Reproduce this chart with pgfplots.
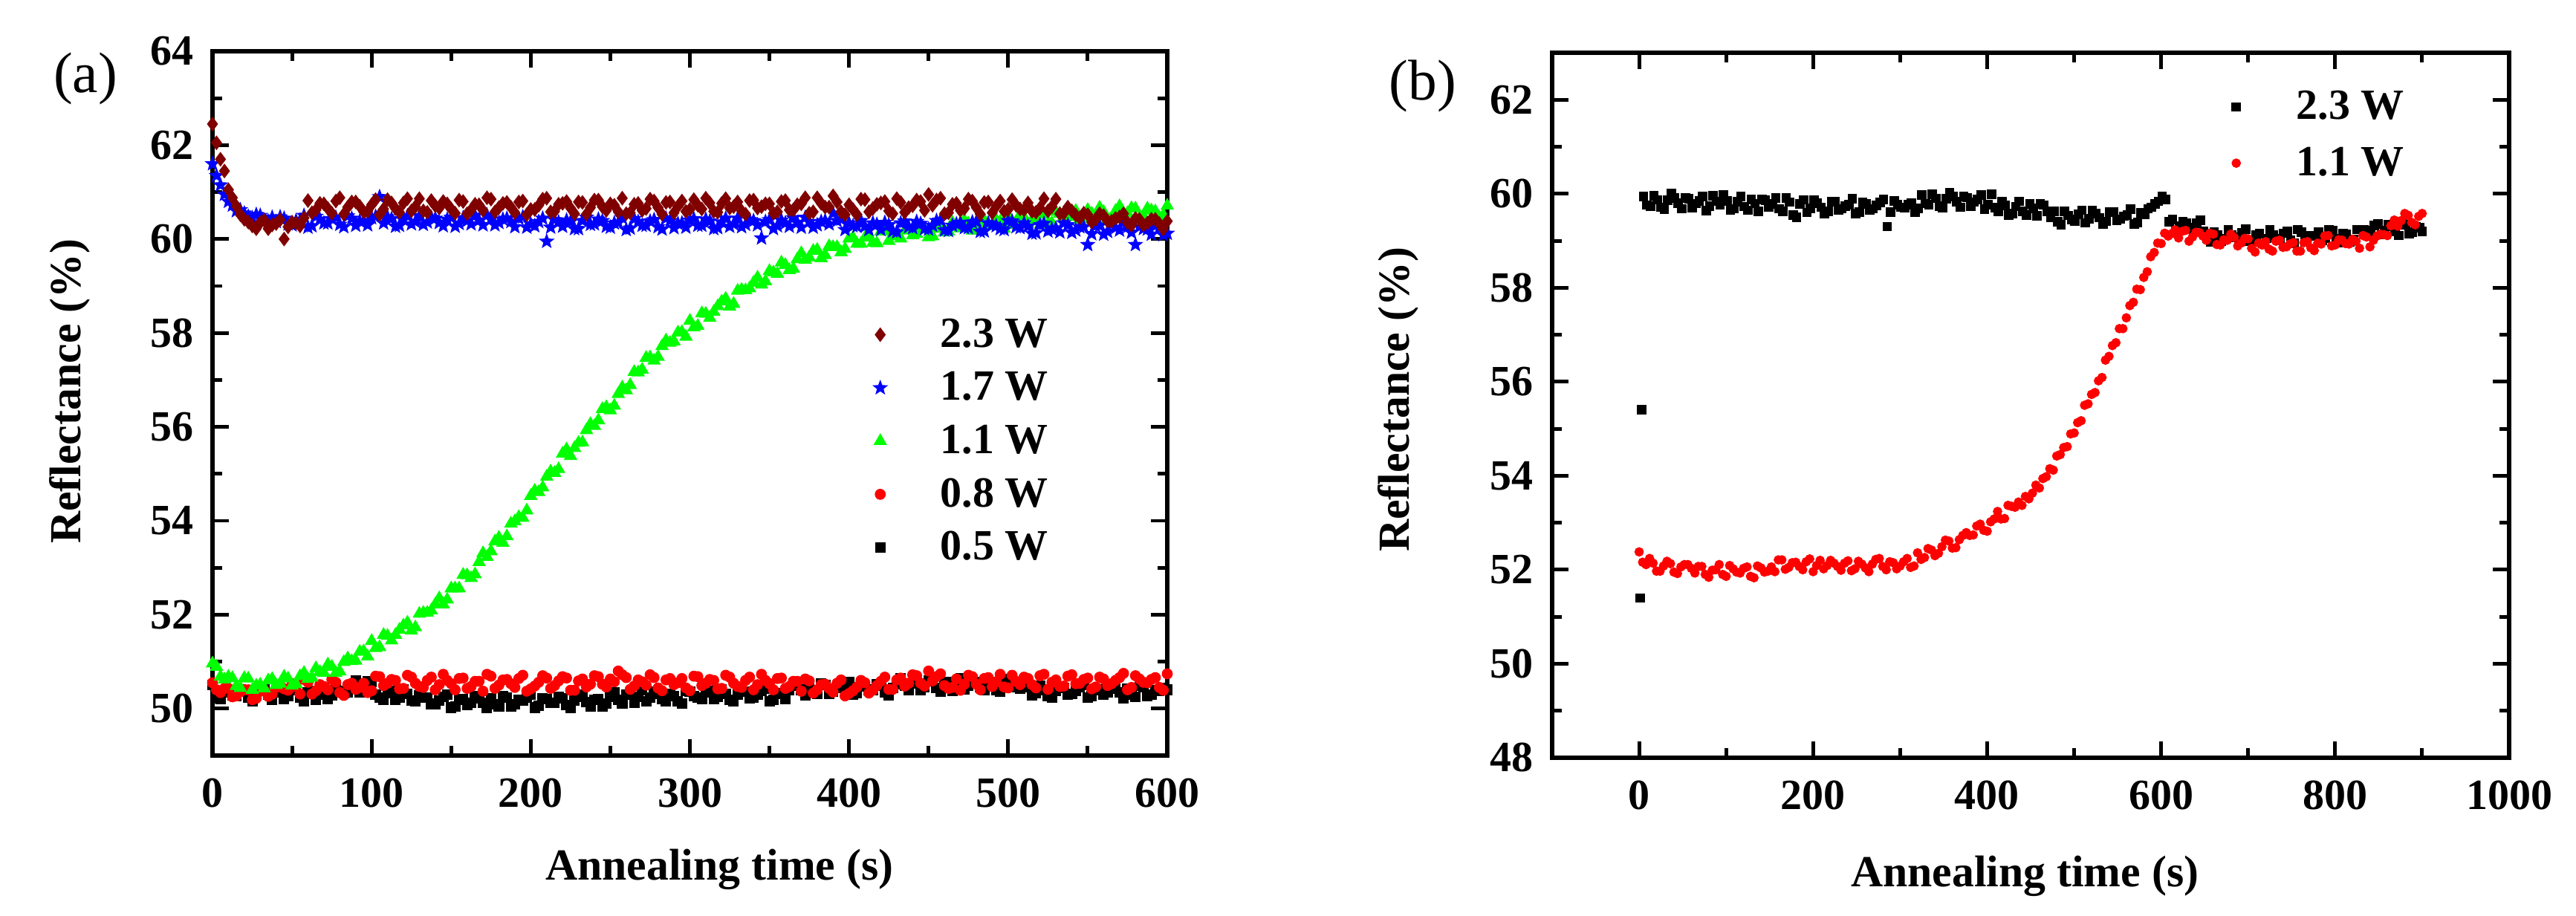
\documentclass[border=0pt]{standalone}
\usepackage{fontspec}
\setmainfont{Liberation Serif}
\usepackage{pgfplots}
\pgfplotsset{compat=1.18}
\definecolor{dred}{RGB}{128,0,0}
\definecolor{fgreen}{RGB}{0,255,0}
\pgfdeclareplotmark{fstar}{%
 \pgfpathmoveto{\pgfpointpolar{90}{\pgfplotmarksize}}%
 \pgfpathlineto{\pgfpointpolar{126}{0.42\pgfplotmarksize}}%
 \pgfpathlineto{\pgfpointpolar{162}{\pgfplotmarksize}}%
 \pgfpathlineto{\pgfpointpolar{198}{0.42\pgfplotmarksize}}%
 \pgfpathlineto{\pgfpointpolar{234}{\pgfplotmarksize}}%
 \pgfpathlineto{\pgfpointpolar{270}{0.42\pgfplotmarksize}}%
 \pgfpathlineto{\pgfpointpolar{306}{\pgfplotmarksize}}%
 \pgfpathlineto{\pgfpointpolar{342}{0.42\pgfplotmarksize}}%
 \pgfpathlineto{\pgfpointpolar{18}{\pgfplotmarksize}}%
 \pgfpathlineto{\pgfpointpolar{54}{0.42\pgfplotmarksize}}%
 \pgfpathclose\pgfusepathqfillstroke}
\pgfplotsset{
 myax/.style={
  scale only axis, anchor=south west,
  axis line style={line width=1.6pt},
  tick style={line width=1.4pt, black},
  tick align=inside, xtick pos=both, ytick pos=both,
  xticklabel pos=bottom, yticklabel pos=left,
  major tick length=0.22cm, minor tick length=0.13cm,
  minor x tick num=1, minor y tick num=1,
  /pgf/number format/assume math mode=true,
  /pgf/number format/1000 sep={},
  tick label style={font=\fontsize{16.5}{19}\selectfont\bfseries},
  yticklabel style={inner sep=0pt, xshift=-0.25cm},
  xticklabel style={inner sep=0pt, yshift=-0.3cm},
  label style={font=\fontsize{17}{20}\selectfont\bfseries},
  legend cell align=left,
  legend image code/.code={\path[draw=none,fill=none] (0cm,-0.1cm) rectangle (1.11cm,0.1cm); \draw[##1] plot coordinates {(0.3cm,0cm)};},
 }
}
\begin{document}
\begin{tikzpicture}
\useasboundingbox (0,0) rectangle (34.67,12.33);
\begin{axis}[myax,
 at={(2.86cm,2.16cm)}, width=12.85cm, height=9.48cm,
 xmin=0, xmax=600, ymin=49, ymax=64,
 xtick={0,100,...,600}, ytick={50,52,...,64},
 xlabel={Annealing time (s)}, ylabel={Reflectance (\%)},
 xlabel style={at={(axis description cs:0.531,-0.1614)}, anchor=center},
 ylabel style={at={(axis description cs:-0.1494,0.517)}, anchor=center},
 reverse legend,
 legend style={at={(0.6755,0.6213)}, anchor=north west, draw=none, fill=none, inner sep=0pt, row sep=0.28cm,
   nodes={inner sep=0pt, text depth=0.15em, font=\fontsize{16.5}{19}\selectfont\bfseries}},
]
% 0.5 W
\addplot[only marks, mark=square*, mark size=1.8pt, black] coordinates {
(0,50.50)(5,50.21)(10,50.35)(15,50.27)(20,50.37)(25,50.16)(30,50.40)(35,50.29)(40,50.34)(45,50.20)(50,50.40)(55,50.24)(60,50.34)(65,50.18)(70,50.44)(75,50.28)(80,50.37)(85,50.35)(90,50.60)(95,50.42)(100,50.56)(105,50.23)(110,50.33)(115,50.19)(120,50.40)(125,50.17)(130,50.28)(135,50.23)(140,50.10)(145,50.25)(150,50.02)(155,50.18)(160,50.08)(165,50.27)(170,50.13)(175,50.21)(180,50.04)(185,50.24)(190,50.09)(195,50.17)(200,50.29)(205,50.06)(210,50.20)(215,50.12)(220,50.22)(225,50.01)(230,50.25)(235,50.14)(240,50.19)(245,50.05)(250,50.25)(255,50.19)(260,50.29)(265,50.13)(270,50.39)(275,50.23)(280,50.32)(285,50.15)(290,50.27)(295,50.11)(300,50.36)(305,50.24)(310,50.34)(315,50.20)(320,50.41)(325,50.18)(330,50.29)(335,50.36)(340,50.23)(345,50.38)(350,50.15)(355,50.31)(360,50.21)(365,50.54)(370,50.40)(375,50.48)(380,50.31)(385,50.51)(390,50.36)(395,50.44)(400,50.56)(405,50.33)(410,50.47)(415,50.39)(420,50.49)(425,50.28)(430,50.52)(435,50.49)(440,50.54)(445,50.40)(450,50.60)(455,50.44)(460,50.54)(465,50.38)(470,50.64)(475,50.48)(480,50.57)(485,50.40)(490,50.52)(495,50.36)(500,50.61)(505,50.46)(510,50.56)(515,50.28)(520,50.49)(525,50.26)(530,50.37)(535,50.44)(540,50.31)(545,50.46)(550,50.23)(555,50.39)(560,50.29)(565,50.48)(570,50.34)(575,50.42)(580,50.25)(585,50.45)(590,50.30)(595,50.38)(600,50.40)
};
\addlegendentry{0.5 W}
\addplot[only marks, mark=square*, mark size=1.8pt, black, forget plot] coordinates {
(2.5,50.22)(7.5,50.36)(12.5,50.28)(17.5,50.40)(22.5,50.23)(27.5,50.32)(32.5,50.44)(37.5,50.19)(42.5,50.35)(47.5,50.26)(52.5,50.39)(57.5,50.16)(62.5,50.37)(67.5,50.30)(72.5,50.21)(77.5,50.41)(82.5,50.33)(87.5,50.51)(92.5,50.35)(97.5,50.58)(102.5,50.29)(107.5,50.19)(112.5,50.37)(117.5,50.24)(122.5,50.31)(127.5,50.15)(132.5,50.23)(137.5,50.09)(142.5,50.17)(147.5,50.29)(152.5,50.05)(157.5,50.20)(162.5,50.13)(167.5,50.22)(172.5,50.01)(177.5,50.09)(182.5,50.27)(187.5,50.05)(192.5,50.18)(197.5,50.23)(202.5,50.02)(207.5,50.21)(212.5,50.13)(217.5,50.25)(222.5,50.08)(227.5,50.17)(232.5,50.29)(237.5,50.04)(242.5,50.20)(247.5,50.11)(252.5,50.34)(257.5,50.11)(262.5,50.32)(267.5,50.25)(272.5,50.16)(277.5,50.36)(282.5,50.20)(287.5,50.31)(292.5,50.15)(297.5,50.38)(302.5,50.27)(307.5,50.20)(312.5,50.38)(317.5,50.25)(322.5,50.32)(327.5,50.16)(332.5,50.36)(337.5,50.22)(342.5,50.30)(347.5,50.42)(352.5,50.18)(357.5,50.33)(362.5,50.40)(367.5,50.49)(372.5,50.28)(377.5,50.36)(382.5,50.54)(387.5,50.32)(392.5,50.45)(397.5,50.50)(402.5,50.29)(407.5,50.48)(412.5,50.40)(417.5,50.52)(422.5,50.35)(427.5,50.44)(432.5,50.64)(437.5,50.39)(442.5,50.55)(447.5,50.46)(452.5,50.59)(457.5,50.36)(462.5,50.57)(467.5,50.50)(472.5,50.41)(477.5,50.61)(482.5,50.45)(487.5,50.56)(492.5,50.40)(497.5,50.63)(502.5,50.49)(507.5,50.42)(512.5,50.46)(517.5,50.33)(522.5,50.40)(527.5,50.24)(532.5,50.44)(537.5,50.30)(542.5,50.38)(547.5,50.50)(552.5,50.26)(557.5,50.41)(562.5,50.34)(567.5,50.43)(572.5,50.22)(577.5,50.30)(582.5,50.48)(587.5,50.26)(592.5,50.39)(597.5,50.44)
};
% 0.8 W
\addplot[only marks, mark=*, mark size=1.9pt, red] coordinates {
(0,50.55)(5,50.34)(10,50.43)(15,50.27)(20,50.40)(25,50.19)(30,50.37)(35,50.26)(40,50.45)(45,50.42)(50,50.53)(55,50.31)(60,50.56)(65,50.38)(70,50.47)(75,50.62)(80,50.34)(85,50.51)(90,50.41)(95,50.54)(100,50.38)(105,50.68)(110,50.54)(115,50.60)(120,50.43)(125,50.67)(130,50.47)(135,50.60)(140,50.40)(145,50.73)(150,50.53)(155,50.64)(160,50.43)(165,50.58)(170,50.37)(175,50.69)(180,50.50)(185,50.62)(190,50.45)(195,50.71)(200,50.42)(205,50.56)(210,50.65)(215,50.49)(220,50.68)(225,50.39)(230,50.59)(235,50.46)(240,50.70)(245,50.52)(250,50.63)(255,50.80)(260,50.66)(265,50.48)(270,50.57)(275,50.72)(280,50.44)(285,50.61)(290,50.51)(295,50.64)(300,50.38)(305,50.68)(310,50.54)(315,50.60)(320,50.43)(325,50.67)(330,50.47)(335,50.60)(340,50.40)(345,50.73)(350,50.53)(355,50.64)(360,50.43)(365,50.58)(370,50.37)(375,50.59)(380,50.40)(385,50.52)(390,50.35)(395,50.61)(400,50.32)(405,50.46)(410,50.55)(415,50.39)(420,50.58)(425,50.41)(430,50.61)(435,50.48)(440,50.72)(445,50.54)(450,50.80)(455,50.68)(460,50.49)(465,50.45)(470,50.39)(475,50.71)(480,50.52)(485,50.64)(490,50.47)(495,50.73)(500,50.44)(505,50.58)(510,50.67)(515,50.51)(520,50.70)(525,50.41)(530,50.61)(535,50.48)(540,50.72)(545,50.54)(550,50.65)(555,50.46)(560,50.63)(565,50.53)(570,50.66)(575,50.40)(580,50.70)(585,50.56)(590,50.62)(595,50.45)(600,50.74)
};
\addlegendentry{0.8 W}
\addplot[only marks, mark=*, mark size=1.9pt, red, forget plot] coordinates {
(2.5,50.40)(7.5,50.43)(12.5,50.25)(17.5,50.36)(22.5,50.40)(27.5,50.22)(32.5,50.39)(37.5,50.31)(42.5,50.49)(47.5,50.39)(52.5,50.47)(57.5,50.62)(62.5,50.31)(67.5,50.51)(72.5,50.40)(77.5,50.56)(82.5,50.28)(87.5,50.54)(92.5,50.45)(97.5,50.34)(102.5,50.69)(107.5,50.49)(112.5,50.62)(117.5,50.42)(122.5,50.71)(127.5,50.54)(132.5,50.45)(137.5,50.67)(142.5,50.51)(147.5,50.60)(152.5,50.40)(157.5,50.65)(162.5,50.47)(167.5,50.58)(172.5,50.73)(177.5,50.43)(182.5,50.61)(187.5,50.53)(192.5,50.64)(197.5,50.37)(202.5,50.48)(207.5,50.70)(212.5,50.43)(217.5,50.59)(222.5,50.65)(227.5,50.39)(232.5,50.63)(237.5,50.52)(242.5,50.68)(247.5,50.46)(252.5,50.57)(257.5,50.72)(262.5,50.41)(267.5,50.61)(272.5,50.50)(277.5,50.66)(282.5,50.38)(287.5,50.64)(292.5,50.55)(297.5,50.44)(302.5,50.69)(307.5,50.49)(312.5,50.62)(317.5,50.42)(322.5,50.71)(327.5,50.54)(332.5,50.45)(337.5,50.67)(342.5,50.51)(347.5,50.60)(352.5,50.40)(357.5,50.65)(362.5,50.47)(367.5,50.58)(372.5,50.63)(377.5,50.33)(382.5,50.51)(387.5,50.43)(392.5,50.54)(397.5,50.27)(402.5,50.38)(407.5,50.60)(412.5,50.33)(417.5,50.49)(422.5,50.67)(427.5,50.41)(432.5,50.65)(437.5,50.54)(442.5,50.70)(447.5,50.48)(452.5,50.59)(457.5,50.74)(462.5,50.43)(467.5,50.63)(472.5,50.52)(477.5,50.68)(482.5,50.40)(487.5,50.66)(492.5,50.57)(497.5,50.46)(502.5,50.71)(507.5,50.51)(512.5,50.64)(517.5,50.44)(522.5,50.73)(527.5,50.56)(532.5,50.47)(537.5,50.69)(542.5,50.53)(547.5,50.62)(552.5,50.42)(557.5,50.67)(562.5,50.49)(567.5,50.60)(572.5,50.75)(577.5,50.45)(582.5,50.63)(587.5,50.55)(592.5,50.66)(597.5,50.39)
};
% 1.1 W
\addplot[only marks, mark=triangle*, mark size=2.6pt, fgreen] coordinates {
(0,50.96)(5,50.68)(10,50.68)(15,50.48)(20,50.65)(25,50.40)(30,50.51)(35,50.60)(40,50.50)(45,50.68)(50,50.49)(55,50.69)(60,50.63)(65,50.86)(70,50.76)(75,50.89)(80,50.79)(85,51.07)(90,51.02)(95,51.22)(100,51.44)(105,51.31)(110,51.55)(115,51.57)(120,51.77)(125,51.66)(130,52.02)(135,52.04)(140,52.22)(145,52.22)(150,52.56)(155,52.56)(160,52.84)(165,52.86)(170,53.31)(175,53.35)(180,53.64)(185,53.67)(190,53.99)(195,54.06)(200,54.53)(205,54.61)(210,54.94)(215,55.02)(220,55.43)(225,55.38)(230,55.66)(235,55.93)(240,56.02)(245,56.38)(250,56.35)(255,56.70)(260,56.78)(265,57.17)(270,57.22)(275,57.48)(280,57.49)(285,57.84)(290,57.82)(295,58.02)(300,58.26)(305,58.15)(310,58.41)(315,58.45)(320,58.67)(325,58.56)(330,58.90)(335,58.91)(340,59.07)(345,59.03)(350,59.32)(355,59.26)(360,59.45)(365,59.37)(370,59.70)(375,59.61)(380,59.77)(385,59.66)(390,59.83)(395,59.72)(400,60.01)(405,59.90)(410,60.03)(415,59.92)(420,60.16)(425,59.96)(430,60.09)(435,60.18)(440,60.08)(445,60.25)(450,60.04)(455,60.22)(460,60.14)(465,60.35)(470,60.23)(475,60.33)(480,60.18)(485,60.40)(490,60.27)(495,60.37)(500,60.51)(505,60.30)(510,60.46)(515,60.40)(520,60.52)(525,60.32)(530,60.58)(535,60.48)(540,60.54)(545,60.41)(550,60.62)(555,60.47)(560,60.58)(565,60.43)(570,60.70)(575,60.55)(580,60.65)(585,60.48)(590,60.61)(595,60.46)(600,60.71)
};
\addlegendentry{1.1 W}
\addplot[only marks, mark=triangle*, mark size=2.6pt, fgreen, forget plot] coordinates {
(2.5,50.89)(7.5,50.62)(12.5,50.65)(17.5,50.44)(22.5,50.64)(27.5,50.49)(32.5,50.43)(37.5,50.63)(42.5,50.53)(47.5,50.64)(52.5,50.52)(57.5,50.76)(62.5,50.66)(67.5,50.78)(72.5,50.94)(77.5,50.76)(82.5,50.99)(87.5,51.01)(92.5,51.21)(97.5,51.11)(102.5,51.29)(107.5,51.57)(112.5,51.45)(117.5,51.68)(122.5,51.83)(127.5,51.73)(132.5,52.04)(137.5,52.09)(142.5,52.35)(147.5,52.32)(152.5,52.56)(157.5,52.85)(162.5,52.78)(167.5,53.12)(172.5,53.23)(177.5,53.56)(182.5,53.53)(187.5,53.94)(192.5,54.08)(197.5,54.22)(202.5,54.64)(207.5,54.71)(212.5,55.05)(217.5,55.10)(222.5,55.52)(227.5,55.55)(232.5,55.67)(237.5,56.06)(242.5,56.14)(247.5,56.42)(252.5,56.45)(257.5,56.84)(262.5,56.89)(267.5,57.16)(272.5,57.47)(277.5,57.41)(282.5,57.72)(287.5,57.79)(292.5,58.01)(297.5,57.92)(302.5,58.12)(307.5,58.42)(312.5,58.32)(317.5,58.57)(322.5,58.73)(327.5,58.62)(332.5,58.92)(337.5,58.95)(342.5,59.18)(347.5,59.10)(352.5,59.29)(357.5,59.50)(362.5,59.34)(367.5,59.57)(372.5,59.56)(377.5,59.75)(382.5,59.59)(387.5,59.85)(392.5,59.83)(397.5,59.79)(402.5,60.03)(407.5,59.90)(412.5,60.04)(417.5,59.91)(422.5,60.17)(427.5,60.06)(432.5,60.01)(437.5,60.21)(442.5,60.11)(447.5,60.20)(452.5,60.06)(457.5,60.28)(462.5,60.16)(467.5,60.26)(472.5,60.40)(477.5,60.18)(482.5,60.35)(487.5,60.30)(492.5,60.41)(497.5,60.22)(502.5,60.32)(507.5,60.52)(512.5,60.32)(517.5,60.47)(522.5,60.53)(527.5,60.34)(532.5,60.54)(537.5,60.47)(542.5,60.60)(547.5,60.44)(552.5,60.54)(557.5,60.67)(562.5,60.43)(567.5,60.60)(572.5,60.52)(577.5,60.66)(582.5,60.44)(587.5,60.65)(592.5,60.59)(597.5,60.51)
};
% 1.7 W
\addplot[only marks, mark=fstar, mark size=2.6pt, blue] coordinates {
(0,61.60)(5,61.15)(10,60.80)(15,60.60)(20,60.55)(25,60.45)(30,60.50)(35,60.38)(40,60.37)(45,60.44)(50,60.30)(55,60.40)(60,60.25)(65,60.48)(70,60.34)(75,60.43)(80,60.31)(85,60.49)(90,60.29)(95,60.39)(100,60.45)(105,60.90)(110,60.47)(115,60.27)(120,60.41)(125,60.32)(130,60.49)(135,60.36)(140,60.44)(145,60.28)(150,60.46)(155,60.33)(160,60.39)(165,60.50)(170,60.30)(175,60.42)(180,60.35)(185,60.44)(190,60.26)(195,60.47)(200,60.32)(205,60.37)(210,59.95)(215,60.41)(220,60.27)(225,60.37)(230,60.22)(235,60.46)(240,60.32)(245,60.39)(250,60.25)(255,60.35)(260,60.20)(265,60.43)(270,60.29)(275,60.38)(280,60.26)(285,60.44)(290,60.24)(295,60.34)(300,60.40)(305,60.29)(310,60.42)(315,60.22)(320,60.36)(325,60.27)(330,60.44)(335,60.31)(340,60.39)(345,60.02)(350,60.41)(355,60.28)(360,60.34)(365,60.45)(370,60.25)(375,60.37)(380,60.30)(385,60.39)(390,60.55)(395,60.42)(400,60.34)(405,60.27)(410,60.27)(415,60.34)(420,60.20)(425,60.30)(430,60.15)(435,60.38)(440,60.24)(445,60.33)(450,60.21)(455,60.39)(460,60.19)(465,60.29)(470,60.35)(475,60.24)(480,60.37)(485,60.17)(490,60.31)(495,60.22)(500,60.39)(505,60.26)(510,60.34)(515,60.12)(520,60.30)(525,60.17)(530,60.23)(535,60.34)(540,60.14)(545,60.26)(550,59.88)(555,60.28)(560,60.10)(565,60.31)(570,60.19)(575,60.26)(580,59.88)(585,60.22)(590,60.10)(595,60.24)(600,60.12)
};
\addlegendentry{1.7 W}
\addplot[only marks, mark=fstar, mark size=2.6pt, blue, forget plot] coordinates {
(2.5,61.35)(7.5,60.95)(12.5,60.72)(17.5,60.62)(22.5,60.48)(27.5,60.52)(32.5,60.40)(37.5,60.46)(42.5,60.47)(47.5,60.32)(52.5,60.39)(57.5,60.50)(62.5,60.28)(67.5,60.42)(72.5,60.34)(77.5,60.46)(82.5,60.26)(87.5,60.44)(92.5,60.38)(97.5,60.30)(102.5,60.48)(107.5,60.34)(112.5,60.43)(117.5,60.29)(122.5,60.49)(127.5,60.37)(132.5,60.31)(137.5,60.46)(142.5,60.35)(147.5,60.42)(152.5,60.27)(157.5,60.45)(162.5,60.32)(167.5,60.40)(172.5,60.51)(177.5,60.30)(182.5,60.42)(187.5,60.37)(192.5,60.44)(197.5,60.25)(202.5,60.28)(207.5,60.44)(212.5,60.25)(217.5,60.36)(222.5,60.40)(227.5,60.22)(232.5,60.39)(237.5,60.31)(242.5,60.42)(247.5,60.27)(252.5,60.34)(257.5,60.45)(262.5,60.23)(267.5,60.37)(272.5,60.29)(277.5,60.41)(282.5,60.21)(287.5,60.39)(292.5,60.33)(297.5,60.25)(302.5,60.43)(307.5,60.29)(312.5,60.38)(317.5,60.24)(322.5,60.44)(327.5,60.32)(332.5,60.26)(337.5,60.41)(342.5,60.30)(347.5,60.37)(352.5,60.22)(357.5,60.40)(362.5,60.27)(367.5,60.35)(372.5,60.46)(377.5,60.25)(382.5,60.37)(387.5,60.32)(392.5,60.39)(397.5,60.20)(402.5,60.28)(407.5,60.39)(412.5,60.20)(417.5,60.31)(422.5,60.35)(427.5,60.17)(432.5,60.34)(437.5,60.26)(442.5,60.37)(447.5,60.22)(452.5,60.29)(457.5,60.40)(462.5,60.18)(467.5,60.32)(472.5,60.24)(477.5,60.36)(482.5,60.16)(487.5,60.34)(492.5,60.28)(497.5,60.20)(502.5,60.38)(507.5,60.24)(512.5,60.27)(517.5,60.13)(522.5,60.33)(527.5,60.21)(532.5,60.15)(537.5,60.30)(542.5,60.19)(547.5,60.26)(552.5,60.11)(557.5,60.29)(562.5,60.16)(567.5,60.24)(572.5,60.35)(577.5,60.14)(582.5,60.26)(587.5,60.21)(592.5,60.28)(597.5,60.09)
};
% 2.3 W
\addplot[only marks, mark=diamond*, mark size=2.5pt, dred] coordinates {
(0,62.45)(5,61.70)(10,61.05)(15,60.70)(20,60.42)(25,60.28)(30,60.35)(35,60.22)(40,60.33)(45,60.00)(50,60.36)(55,60.28)(60,60.82)(65,60.62)(70,60.75)(75,60.55)(80,60.88)(85,60.68)(90,60.79)(95,60.58)(100,60.73)(105,60.52)(110,60.84)(115,60.65)(120,60.77)(125,60.60)(130,60.86)(135,60.57)(140,60.71)(145,60.80)(150,60.64)(155,60.83)(160,60.54)(165,60.74)(170,60.61)(175,60.85)(180,60.67)(185,60.78)(190,60.56)(195,60.81)(200,60.63)(205,60.72)(210,60.87)(215,60.59)(220,60.76)(225,60.66)(230,60.79)(235,60.53)(240,60.83)(245,60.69)(250,60.75)(255,60.58)(260,60.54)(265,60.74)(270,60.61)(275,60.85)(280,60.67)(285,60.78)(290,60.56)(295,60.81)(300,60.63)(305,60.72)(310,60.87)(315,60.59)(320,60.76)(325,60.66)(330,60.79)(335,60.53)(340,60.83)(345,60.69)(350,60.75)(355,60.58)(360,60.82)(365,60.62)(370,60.75)(375,60.55)(380,60.88)(385,60.68)(390,60.92)(395,60.58)(400,60.73)(405,60.52)(410,60.84)(415,60.65)(420,60.77)(425,60.60)(430,60.86)(435,60.57)(440,60.71)(445,60.80)(450,60.95)(455,60.83)(460,60.54)(465,60.74)(470,60.61)(475,60.85)(480,60.67)(485,60.78)(490,60.56)(495,60.81)(500,60.63)(505,60.72)(510,60.62)(515,60.59)(520,60.66)(525,60.60)(530,60.85)(535,60.55)(540,60.60)(545,60.45)(550,60.52)(555,60.42)(560,60.50)(565,60.38)(570,60.47)(575,60.35)(580,60.44)(585,60.30)(590,60.42)(595,60.33)(600,60.38)
};
\addlegendentry{2.3 W}
\addplot[only marks, mark=diamond*, mark size=2.5pt, dred, forget plot] coordinates {
(2.5,62.05)(7.5,61.45)(12.5,60.88)(17.5,60.52)(22.5,60.36)(27.5,60.22)(32.5,60.40)(37.5,60.30)(42.5,60.41)(47.5,60.26)(52.5,60.34)(57.5,60.45)(62.5,60.56)(67.5,60.76)(72.5,60.65)(77.5,60.81)(82.5,60.53)(87.5,60.79)(92.5,60.70)(97.5,60.59)(102.5,60.84)(107.5,60.64)(112.5,60.77)(117.5,60.57)(122.5,60.86)(127.5,60.69)(132.5,60.60)(137.5,60.82)(142.5,60.66)(147.5,60.75)(152.5,60.55)(157.5,60.80)(162.5,60.62)(167.5,60.73)(172.5,60.88)(177.5,60.58)(182.5,60.76)(187.5,60.68)(192.5,60.79)(197.5,60.52)(202.5,60.63)(207.5,60.85)(212.5,60.58)(217.5,60.74)(222.5,60.80)(227.5,60.54)(232.5,60.78)(237.5,60.67)(242.5,60.83)(247.5,60.61)(252.5,60.72)(257.5,60.87)(262.5,60.56)(267.5,60.76)(272.5,60.65)(277.5,60.81)(282.5,60.53)(287.5,60.79)(292.5,60.70)(297.5,60.59)(302.5,60.84)(307.5,60.64)(312.5,60.77)(317.5,60.57)(322.5,60.86)(327.5,60.69)(332.5,60.60)(337.5,60.82)(342.5,60.66)(347.5,60.75)(352.5,60.55)(357.5,60.80)(362.5,60.62)(367.5,60.73)(372.5,60.88)(377.5,60.58)(382.5,60.76)(387.5,60.68)(392.5,60.79)(397.5,60.52)(402.5,60.63)(407.5,60.85)(412.5,60.58)(417.5,60.74)(422.5,60.80)(427.5,60.54)(432.5,60.78)(437.5,60.67)(442.5,60.83)(447.5,60.61)(452.5,60.72)(457.5,60.87)(462.5,60.56)(467.5,60.76)(472.5,60.65)(477.5,60.81)(482.5,60.53)(487.5,60.79)(492.5,60.70)(497.5,60.59)(502.5,60.84)(507.5,60.64)(512.5,60.77)(517.5,60.57)(522.5,60.86)(527.5,60.69)(532.5,60.54)(537.5,60.68)(542.5,60.51)(547.5,60.55)(552.5,60.36)(557.5,60.54)(562.5,60.38)(567.5,60.44)(572.5,60.54)(577.5,60.29)(582.5,60.42)(587.5,60.34)(592.5,60.42)(597.5,60.21)
};
\end{axis}
\begin{axis}[myax,
 at={(20.89cm,2.13cm)}, width=12.88cm, height=9.49cm,
 xmin=-100, xmax=1000, ymin=48, ymax=63,
 xtick={0,200,...,1000}, ytick={48,50,...,62},
 xlabel={Annealing time (s)}, ylabel={Reflectance (\%)},
 xlabel style={at={(axis description cs:0.494,-0.1675)}, anchor=center},
 ylabel style={at={(axis description cs:-0.1607,0.508)}, anchor=center},
 legend style={at={(0.691,0.9468)}, anchor=north west, draw=none, fill=none, inner sep=0pt, row sep=0.32cm,
   nodes={inner sep=0pt, text depth=0.15em, font=\fontsize{16.5}{19}\selectfont\bfseries}},
]
\addplot[only marks, mark=square*, mark size=1.6pt, black] coordinates {
(1,51.40)(3,55.40)(5,59.94)(13,59.74)(21,59.87)(29,59.67)(37,60.00)(45,59.80)(53,59.91)(61,59.70)(69,59.85)(77,59.64)(85,59.96)(93,59.77)(101,59.85)(109,59.68)(117,59.94)(125,59.65)(133,59.79)(141,59.88)(149,59.72)(157,59.91)(165,59.62)(173,59.82)(181,59.50)(189,59.87)(197,59.69)(205,59.80)(213,59.58)(221,59.83)(229,59.65)(237,59.74)(245,59.89)(253,59.61)(261,59.78)(269,59.68)(277,59.81)(285,59.30)(293,59.85)(301,59.71)(309,59.77)(317,59.60)(325,59.97)(333,59.77)(341,59.90)(349,59.70)(357,60.03)(365,59.83)(373,59.94)(381,59.73)(389,59.88)(397,59.67)(405,59.99)(413,59.63)(421,59.75)(429,59.58)(437,59.84)(445,59.55)(453,59.69)(461,59.78)(469,59.62)(477,59.63)(485,59.34)(493,59.54)(501,59.41)(509,59.65)(517,59.47)(525,59.58)(533,59.36)(541,59.61)(549,59.43)(557,59.52)(565,59.67)(573,59.39)(581,59.56)(589,59.71)(597,59.84)(605,59.88)(613,59.45)(621,59.31)(629,59.37)(637,59.20)(645,59.44)(653,59.06)(661,59.18)(669,58.99)(677,59.23)(685,59.07)(693,59.17)(701,58.99)(709,59.13)(717,58.94)(725,59.23)(733,59.05)(741,59.16)(749,59.01)(757,59.24)(765,58.98)(773,59.11)(781,59.19)(789,59.05)(797,59.22)(805,58.96)(813,59.14)(821,59.02)(829,59.24)(837,59.22)(845,59.32)(853,59.13)(861,59.35)(869,59.19)(877,59.40)(885,59.15)(893,59.30)(900,59.20)
};
\addlegendentry{2.3 W}
\addplot[only marks, mark=square*, mark size=1.6pt, black, forget plot] coordinates {
(9,59.76)(17,59.96)(25,59.71)(33,59.86)(41,59.91)(49,59.68)(57,59.89)(65,59.79)(73,59.94)(81,59.74)(89,59.84)(97,59.97)(105,59.65)(113,59.83)(121,59.73)(129,59.88)(137,59.63)(145,59.86)(153,59.78)(161,59.68)(169,59.91)(177,59.55)(185,59.78)(193,59.60)(201,59.86)(209,59.71)(217,59.63)(225,59.83)(233,59.68)(241,59.77)(249,59.58)(257,59.81)(265,59.65)(273,59.75)(281,59.88)(289,59.61)(297,59.77)(305,59.70)(313,59.80)(321,59.69)(329,59.79)(337,59.99)(345,59.74)(353,59.89)(361,59.94)(369,59.71)(377,59.92)(385,59.82)(393,59.97)(401,59.77)(409,59.70)(417,59.83)(425,59.55)(433,59.73)(441,59.63)(449,59.78)(457,59.53)(465,59.76)(473,59.50)(481,59.40)(489,59.63)(497,59.45)(505,59.56)(513,59.38)(521,59.64)(529,59.49)(537,59.41)(545,59.61)(553,59.46)(561,59.55)(569,59.36)(577,59.59)(585,59.68)(593,59.78)(601,59.95)(609,59.40)(617,59.22)(625,59.40)(633,59.28)(641,59.37)(649,59.20)(657,58.97)(665,59.12)(673,59.04)(681,59.13)(689,59.00)(697,59.25)(705,58.99)(713,59.15)(721,59.05)(729,59.12)(737,59.00)(745,59.20)(753,58.95)(761,59.18)(769,59.10)(777,59.10)(785,59.00)(793,59.23)(801,59.05)(809,59.16)(817,58.98)(825,59.24)(833,59.24)(841,59.16)(849,59.36)(857,59.21)(865,59.30)(873,59.11)(881,59.34)(889,59.18)(897,59.28)
};
\addplot[only marks, mark=*, mark size=1.6pt, red] coordinates {
(0,52.38)(8,52.11)(16,52.14)(24,51.97)(32,52.18)(40,51.95)(48,52.06)(56,52.11)(64,51.93)(72,52.07)(80,51.84)(88,52.00)(96,51.90)(104,52.09)(112,51.95)(120,52.03)(128,51.86)(136,52.08)(144,51.95)(152,52.06)(160,52.21)(168,52.01)(176,52.15)(184,52.07)(192,52.17)(200,51.96)(208,52.20)(216,52.09)(224,52.14)(232,51.99)(240,52.19)(248,52.02)(256,52.12)(264,51.96)(272,52.22)(280,52.07)(288,52.17)(296,52.02)(304,52.17)(312,52.05)(320,52.36)(328,52.26)(336,52.42)(344,52.35)(352,52.63)(360,52.46)(368,52.64)(376,52.79)(384,52.74)(392,52.97)(400,52.82)(408,53.08)(416,53.08)(424,53.37)(432,53.33)(436,53.44)(440,53.37)(444,53.56)(448,53.51)(452,53.63)(456,53.80)(460,53.74)(464,53.94)(468,53.98)(472,54.15)(476,54.12)(480,54.42)(484,54.45)(488,54.60)(492,54.62)(496,54.89)(500,54.91)(504,55.13)(508,55.17)(512,55.50)(516,55.53)(520,55.73)(524,55.77)(528,56.02)(532,56.09)(536,56.46)(540,56.54)(544,56.77)(548,56.83)(552,57.13)(556,57.13)(560,57.36)(564,57.62)(568,57.69)(572,57.97)(576,57.96)(580,58.22)(584,58.34)(588,58.66)(592,58.75)(596,58.95)(600,58.94)(604,59.16)(608,59.10)(612,59.15)(616,59.23)(620,59.06)(628,59.22)(636,59.08)(644,59.17)(652,59.01)(660,59.14)(668,58.91)(676,59.01)(684,59.07)(692,58.95)(700,59.04)(708,58.76)(716,58.91)(724,58.82)(732,58.99)(740,58.86)(748,58.93)(756,58.78)(764,58.96)(772,58.85)(780,58.95)(788,59.10)(796,58.89)(804,59.02)(812,58.94)(820,59.03)(828,58.84)(836,59.08)(844,59.01)(852,59.14)(860,59.11)(868,59.44)(876,59.43)(884,59.54)(892,59.34)(900,59.58)
};
\addlegendentry{1.1 W}
\addplot[only marks, mark=*, mark size=1.6pt, red, forget plot] coordinates {
(4,52.16)(12,52.24)(20,51.97)(28,52.08)(36,52.13)(44,51.92)(52,52.11)(60,52.03)(68,52.07)(76,51.90)(84,51.99)(92,52.11)(100,51.86)(108,52.02)(116,51.93)(124,52.06)(132,51.83)(140,52.04)(148,51.97)(156,51.96)(164,52.21)(172,52.05)(180,52.16)(188,52.00)(196,52.23)(204,52.09)(212,52.02)(220,52.20)(228,52.07)(236,52.14)(244,51.98)(252,52.18)(260,52.04)(268,52.12)(276,52.24)(284,52.00)(292,52.15)(300,52.08)(308,52.24)(316,52.08)(324,52.22)(332,52.45)(340,52.30)(348,52.49)(356,52.61)(364,52.47)(372,52.73)(380,52.73)(388,52.93)(396,52.84)(404,53.02)(412,53.24)(420,53.09)(428,53.35)(624,59.20)(632,58.99)(640,59.18)(648,59.10)(656,59.16)(664,58.92)(672,59.02)(680,59.14)(688,58.89)(696,59.05)(704,58.84)(712,58.95)(720,58.98)(728,58.78)(736,59.01)(744,58.87)(752,58.96)(760,58.78)(768,58.98)(776,58.79)(784,58.93)(792,59.11)(800,58.91)(808,59.01)(816,58.93)(824,58.99)(832,59.11)(840,58.87)(848,59.10)(856,59.13)(864,59.32)(872,59.31)(880,59.58)(888,59.39)(896,59.52)
};
\end{axis}
\node[font=\fontsize{22}{26}\selectfont] at (1.15,11.27) {(a)};
\node[font=\fontsize{22}{26}\selectfont] at (19.15,11.17) {(b)};
\end{tikzpicture}
\end{document}
